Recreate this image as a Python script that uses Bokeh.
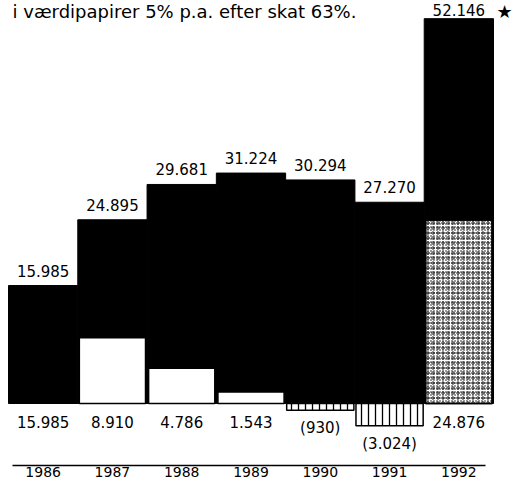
from bokeh.plotting import figure
from bokeh.models import ColumnDataSource, Range1d, FixedTicker, Label
from bokeh.embed import file_html
from bokeh.resources import INLINE
from bokeh.core.properties import value

# ---- data ----
years = [1986, 1987, 1988, 1989, 1990, 1991, 1992]
year_labels = ["1986", "1987", "1988", "1989", "1990", "1991", "1992"]
totals = [15985, 24895, 29681, 31224, 30294, 27270, 52146]
parts = [15985, 8910, 4786, 1543, -930, -3024, 24876]
title_text = "i værdipapirer 5% p.a. efter skat 63%."


def fmt(v):
    s = f"{abs(v):,}".replace(",", ".")
    return f"({s})" if v < 0 else s


# ---- geometry ----
W, H = 513, 483
FRAME_H = 465
BASE = 403                 # px from top of frame to zero line
PX_PER_YEAR = 485 / 7
PX_PER_UNIT = 0.00738
LEFT_PAD = 8               # px left of first bar
FONT_NAME = "DejaVu Sans"
FONT = value(FONT_NAME)

x_start = 1985.5 - LEFT_PAD / PX_PER_YEAR
x_range = Range1d(x_start, x_start + W / PX_PER_YEAR)
y_range = Range1d(-(FRAME_H - BASE) / PX_PER_UNIT, BASE / PX_PER_UNIT)


def cx(px):
    return x_start + px / PX_PER_YEAR


def cy(px):
    return y_range.end - px / PX_PER_UNIT


p = figure(width=W, height=H, x_range=x_range, y_range=y_range,
           output_backend="svg", toolbar_location=None,
           y_axis_location=None, min_border=0,
           min_border_bottom=H - FRAME_H)
p.grid.visible = False
p.outline_line_color = None
p.background_fill_color = "white"
p.border_fill_color = "white"

src = ColumnDataSource(dict(
    x=years, total=totals, part=parts,
    low=[min(0, v) for v in parts],
    part_label=[fmt(v) for v in parts],
))

# outer (total) bars
p.vbar(x="x", top="total", bottom=0, width=1.0, fill_color="black",
       line_color="black", line_width=1, source=src)


def sub(idx):
    return ColumnDataSource(dict(
        x=[years[i] for i in idx],
        part=[parts[i] for i in idx],
    ))


# white inner bars (positive parts)
p.vbar(x="x", top="part", bottom=0, width=0.955, source=sub([1, 2, 3]),
       fill_color="white", line_color="black", line_width=1.5)
# hatched inner bars (negative parts)
p.vbar(x="x", top="part", bottom=0, width=0.97, source=sub([4, 5]),
       fill_color="white", line_color="black", line_width=1.5,
       hatch_pattern="vertical_line", hatch_scale=7, hatch_weight=1.3,
       hatch_color="black")
# stippled inner bar (two overlaid speckle textures)
stip = sub([6])
p.vbar(x="x", top="part", bottom=0, width=0.96, source=stip,
       fill_color="white", line_color="black", line_width=1.5,
       hatch_pattern="dot", hatch_scale=3, hatch_weight=2,
       hatch_color="black")
p.vbar(x="x", top="part", bottom=0, width=0.96, source=stip,
       fill_alpha=0, line_color="black", line_width=1.5,
       hatch_pattern="ring", hatch_scale=5, hatch_weight=1,
       hatch_color="black", hatch_alpha=0.8)

# labels above bars
top_src = ColumnDataSource(dict(x=years[:6], y=totals[:6],
                                t=[fmt(v) for v in totals[:6]]))
p.text(x="x", y="y", text="t", source=top_src, y_offset=-15,
       text_align="center", text_baseline="middle", text_font=FONT,
       text_font_size="15px", text_color="black",
       background_fill_color="white", padding=3)
last_src = ColumnDataSource(dict(x=years[6:], y=totals[6:],
                                 t=[fmt(v) for v in totals[6:]]))
p.text(x="x", y="y", text="t", source=last_src, y_offset=-9,
       text_align="center", text_baseline="middle", text_font=FONT,
       text_font_size="15px", text_color="black")

# labels below the zero line
p.text(x="x", y="low", text="part_label", source=src, y_offset=18,
       text_align="center", text_baseline="middle", text_font=FONT,
       text_font_size="15px", text_color="black")

# title fragment and star
p.add_layout(Label(x=cx(12), y=y_range.end, text=title_text,
                   text_baseline="top", text_align="left",
                   text_font=FONT_NAME, text_font_size="18px",
                   text_color="black"))
p.add_layout(Label(x=cx(504), y=cy(11), text="\u2605",
                   text_baseline="middle", text_align="center",
                   text_font=FONT_NAME, text_font_size="18px",
                   text_color="black"))

# x axis
ax = p.xaxis[0]
ax.ticker = FixedTicker(ticks=years)
ax.major_label_overrides = {y: l for y, l in zip(years, year_labels)}
ax.bounds = (cx(12), cx(485))
ax.axis_line_width = 1.5
ax.axis_line_color = "black"
ax.major_tick_line_color = None
ax.minor_tick_line_color = None
ax.major_tick_out = 0
ax.major_label_standoff = 1
ax.major_label_text_font = FONT_NAME
ax.major_label_text_font_size = "14px"
ax.major_label_text_color = "black"

open("out.html", "w").write(file_html(p, INLINE))
